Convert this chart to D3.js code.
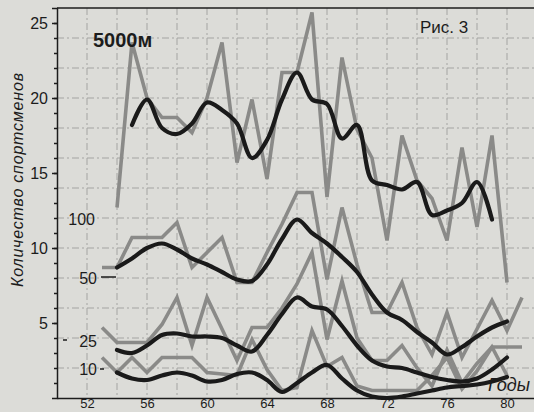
<!DOCTYPE html>
<html>
<head>
<meta charset="utf-8">
<script src="https://cdn.jsdelivr.net/npm/d3@7"></script>
<style>
  body { margin: 0; background: #dcdcd8; }
  svg { display: block; }
  text { font-family: "Liberation Sans", Arial, sans-serif; fill: #1c1c1c; }
</style>
</head>
<body>
<div id="chart"></div>
<script>
// years on the x axis (19xx)
var years = [53,54,55,56,57,58,59,60,61,62,63,64,65,66,67,68,69,70,71,72,73,74,75,76,77,78,79,80,81];

// 5000 m: yearly counts (gray) and smoothed trend (black)
var gray5000  = [null,12.7,23.7,20.0,18.7,18.7,17.7,20.0,23.7,15.7,19.9,14.6,21.7,21.7,25.7,13.4,22.7,17.9,16.0,10.5,17.5,14.5,13.3,10.5,16.7,11.4,17.5,7.7,null];
var black5000 = [null,null,18.2,19.9,18.0,17.6,18.3,19.7,19.2,18.3,16.0,17.2,19.9,21.7,19.9,19.6,17.3,18.2,14.5,14.2,13.9,14.4,12.2,12.5,13.0,14.4,11.9,null,null];

// "100"
var gray100  = [8.7,8.7,10.7,10.7,10.7,11.7,8.7,9.7,10.7,7.7,7.7,9.7,11.6,13.7,13.7,7.9,12.7,8.9,5.7,5.7,7.7,4.7,2.9,5.7,2.7,4.6,6.5,4.5,6.7];
var black100 = [null,8.7,9.3,10.0,10.3,9.9,9.3,8.9,8.4,7.9,7.8,8.9,10.6,11.9,11.0,10.3,9.4,8.4,6.9,5.7,5.2,4.4,3.7,2.9,3.4,4.1,4.7,5.1,null];

// "25"
var gray25  = [4.7,3.7,3.7,3.7,4.9,6.7,3.5,6.7,4.6,2.5,4.7,4.7,6.0,7.6,9.7,3.9,7.8,4.0,2.5,2.5,3.5,2.0,0.8,3.2,1.0,2.3,3.4,3.4,3.4];
var black25 = [null,3.2,3.0,3.5,4.2,4.3,4.1,4.1,4.0,3.5,3.1,4.2,5.6,6.7,6.1,5.9,4.8,3.5,2.5,2.1,2.0,1.7,1.4,1.2,1.1,1.3,1.9,2.7,null];

// "10"
var gray10  = [2.7,1.7,2.7,1.7,2.7,2.7,2.7,1.7,1.6,1.5,3.9,1.9,0.5,0.7,4.5,2.1,2.7,0.8,0.5,0.5,0.5,0.5,1.5,2.7,0.6,1.8,3.4,1.5,null];
var black10 = [null,1.7,1.3,1.2,1.5,1.7,1.5,1.1,1.2,1.6,1.7,1.2,0.4,1.0,1.7,2.2,1.3,0.5,0.1,0.0,0.1,0.3,0.5,0.7,0.8,0.9,1.1,1.4,null];

var yLabels = [5, 10, 15, 20, 25];
var xLabels = [52, 56, 60, 64, 68, 72, 76, 80];

var width = 534, height = 412;

var svg = d3.select("#chart").append("svg")
    .attr("width", width)
    .attr("height", height);

svg.append("rect")
    .attr("width", width)
    .attr("height", height)
    .attr("fill", "#dcdcd8");

var x = d3.scaleLinear().domain([50, 81.8]).range([57, 534]);
var y = d3.scaleLinear().domain([0, 26]).range([398, 8]);

// dash-dot grid
var grid = svg.append("g")
    .attr("stroke", "#6e6e6e")
    .attr("stroke-width", 1)
    .attr("stroke-dasharray", "7 3 2 3")
    .attr("opacity", 0.5);

grid.selectAll("line.h").data(d3.range(2, 26, 2)).enter().append("line")
    .attr("x1", x(50)).attr("x2", width)
    .attr("y1", function(d){ return y(d); })
    .attr("y2", function(d){ return y(d); });

grid.selectAll("line.v").data(d3.range(52, 82, 2)).enter().append("line")
    .attr("y1", y(26)).attr("y2", y(0))
    .attr("x1", function(d){ return x(d); })
    .attr("x2", function(d){ return x(d); });

// frame: left axis, top border, bottom axis
svg.append("line").attr("x1", x(50)).attr("x2", width).attr("y1", y(26)).attr("y2", y(26))
    .attr("stroke", "#1c1c1c").attr("stroke-width", 1.5);

var yAxis = svg.append("g")
    .attr("transform", "translate(" + x(50) + ",0)")
    .call(d3.axisLeft(y).tickValues(yLabels).tickSize(5).tickPadding(4));
yAxis.selectAll("text").style("font-size", "16px").attr("fill", "#1c1c1c");

svg.append("g")
    .attr("transform", "translate(" + x(50) + ",0)")
    .call(d3.axisLeft(y).tickValues(d3.range(1, 26)).tickSize(3).tickFormat(""))
    .select(".domain").remove();

var xAxis = svg.append("g")
    .attr("transform", "translate(0," + y(0) + ")")
    .call(d3.axisBottom(x).tickValues(xLabels).tickSize(0).tickPadding(1).tickSizeOuter(0));
xAxis.selectAll("text").style("font-size", "13px").attr("fill", "#1c1c1c");

svg.selectAll(".domain, .tick line").attr("stroke", "#1c1c1c").attr("stroke-width", 1.5);

// series
var rawLine = d3.line()
    .defined(function(d){ return d[1] != null; })
    .x(function(d){ return x(d[0]); })
    .y(function(d){ return y(d[1]); });

var smoothLine = d3.line()
    .defined(function(d){ return d[1] != null; })
    .curve(d3.curveCatmullRom.alpha(0.5))
    .x(function(d){ return x(d[0]); })
    .y(function(d){ return y(d[1]); });

function pairs(vals){
    return years.map(function(yr, i){ return [yr, vals[i]]; });
}

var grays = [gray5000, gray100, gray25, gray10];
var blacks = [black5000, black100, black25, black10];

svg.append("g").selectAll("path").data(grays).enter().append("path")
    .attr("d", function(d){ return rawLine(pairs(d)); })
    .attr("fill", "none")
    .attr("stroke", "#8a8a88")
    .attr("stroke-width", 3.6)
    .attr("stroke-linejoin", "miter");

svg.append("g").selectAll("path").data(blacks).enter().append("path")
    .attr("d", function(d){ return smoothLine(pairs(d)); })
    .attr("fill", "none")
    .attr("stroke", "#1a1a1a")
    .attr("stroke-width", 4.2)
    .attr("stroke-linecap", "round");

// labels
svg.append("text").attr("x", 93).attr("y", 47)
    .style("font-size", "20px").style("font-weight", "bold")
    .text("5000м");

svg.append("text").attr("x", 420).attr("y", 33)
    .style("font-size", "17px")
    .text("Рис. 3");

var groupLabels = [
    {t: "100", x: 95, y: 225},
    {t: "50", x: 97, y: 284},
    {t: "25", x: 97, y: 347},
    {t: "10", x: 97, y: 375}
];
svg.selectAll("text.grp").data(groupLabels).enter().append("text")
    .attr("class", "grp")
    .attr("x", function(d){ return d.x; })
    .attr("y", function(d){ return d.y; })
    .attr("text-anchor", "end")
    .style("font-size", "16px")
    .text(function(d){ return d.t; });

svg.append("line").attr("x1", 101).attr("x2", 116).attr("y1", 277).attr("y2", 277)
    .attr("stroke", "#1c1c1c").attr("stroke-width", 1.5);
svg.append("line").attr("x1", 100).attr("x2", 104).attr("y1", 369).attr("y2", 369)
    .attr("stroke", "#1c1c1c").attr("stroke-width", 1.5);
svg.append("line").attr("x1", 63).attr("x2", 67).attr("y1", 340).attr("y2", 340)
    .attr("stroke", "#1c1c1c").attr("stroke-width", 1.5);

svg.append("text").attr("x", 530).attr("y", 391)
    .attr("text-anchor", "end")
    .style("font-size", "18px").style("font-style", "italic")
    .text("Годы");

svg.append("text")
    .attr("transform", "translate(23,180) rotate(-90)")
    .attr("text-anchor", "middle")
    .attr("textLength", 214)
    .attr("lengthAdjust", "spacing")
    .style("font-size", "16px").style("font-style", "italic")
    .text("Количество спортсменов");
</script>
</body>
</html>
